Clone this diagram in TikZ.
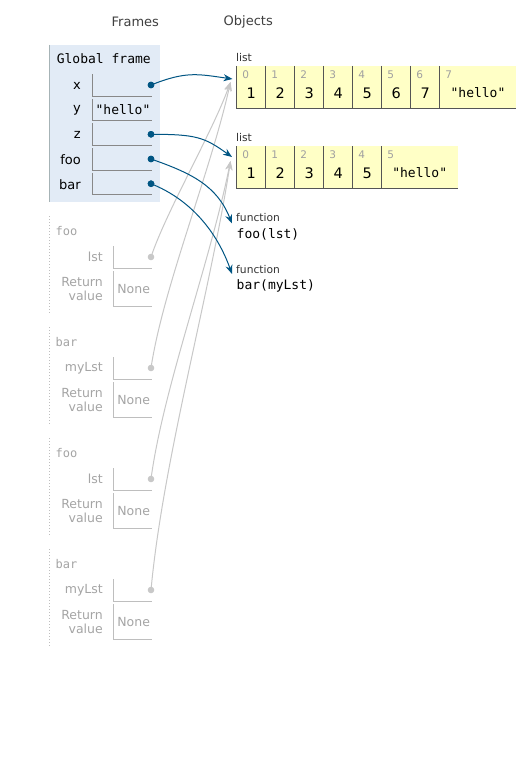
\documentclass[tikz,border=0pt]{standalone}
\usepackage{fontspec}
\setmainfont{DejaVu Sans}
\setmonofont{DejaVu Sans Mono}
\usetikzlibrary{arrows.meta}
\definecolor{ptblue}{RGB}{0,85,131}
\definecolor{framebg}{RGB}{226,235,246}
\definecolor{frameedge}{RGB}{166,179,182}
\definecolor{listbg}{RGB}{255,255,198}
\definecolor{listline}{RGB}{85,85,85}
\definecolor{idxgray}{RGB}{160,160,160}
\definecolor{zgray}{RGB}{165,165,165}
\definecolor{zline}{RGB}{190,190,190}
\definecolor{zarrow}{RGB}{200,200,200}
\definecolor{cellgray}{RGB}{136,136,136}
\tikzset{
  hdr/.style={font=\fontsize{13}{13}\selectfont, text=black!75, inner sep=0},
  varname/.style={font=\fontsize{13}{13}\selectfont, anchor=east, inner sep=0},
  zname/.style={font=\fontsize{12.5}{14.5}\selectfont, anchor=east, inner sep=0, text=zgray, align=right},
  monoval/.style={font=\ttfamily\fontsize{13}{13}\selectfont, inner sep=0},
  numval/.style={font=\fontsize{14.5}{14.5}\selectfont, inner sep=0},
  zhead/.style={font=\ttfamily\fontsize{12}{12}\selectfont, anchor=west, inner sep=0, text=zgray},
  smalllbl/.style={font=\fontsize{10.7}{10.7}\selectfont, anchor=west, inner sep=0, text=black!80},
  idx/.style={font=\fontsize{10.5}{10.5}\selectfont, anchor=west, inner sep=0, text=idxgray},
  listbox/.style={fill=listbg, anchor=north west, inner sep=0, minimum height=42.3pt},
  bluearrow/.style={draw=ptblue, line width=1pt, -{Stealth[length=9pt,width=7pt]}},
  grayarrow/.style={draw=zarrow, line width=1pt, -{Stealth[length=9pt,width=7pt]}},
  bluedot/.style={fill=ptblue},
  graydot/.style={fill=zarrow},
}
\begin{document}
\begin{tikzpicture}[x=1pt,y=-1pt]
\useasboundingbox (0,0) rectangle (532,784);
\fill[white] (0,0) rectangle (532,784);

% headers
\node[hdr] (hframes) at (135.3,22) {Frames};
\node[hdr] (hobjects) at (248.3,22) {Objects};

% global frame
\node[fill=framebg, anchor=north west, inner sep=0, minimum width=111pt, minimum height=156.5pt] (gframe) at (49,45) {};
\draw[frameedge, line width=1pt] (49,45) -- (49,201.5);
\node[monoval] (gtitle) at (103.8,59) {Global frame};

\foreach \nm/\yy in {x/74, y/98.7, z/123.3, foo/148, bar/172.7}{
  \node[varname] (gl\nm) at (81,\yy+11.5) {\nm};
  \draw[cellgray, line width=1pt] (92,\yy) -- (92,\yy+22) -- (152,\yy+22);
}
\node[monoval] (yval) at (123,109.7) {"hello"};

% global dots
\coordinate (dx) at (151,85);
\coordinate (dz) at (151,134.3);
\coordinate (dfoo) at (151,159);
\coordinate (dbar) at (151,183.7);
\foreach \d in {dx,dz,dfoo,dbar}{\fill[bluedot] (\d) circle (3.3pt);}

% list 1
\node[smalllbl] (l1lbl) at (236,57.3) {list};
\node[listbox, minimum width=279.3pt] (list1) at (236.7,66) {};
\foreach \i in {0,...,7}{
  \pgfmathsetmacro{\xl}{236.7+29*\i}
  \draw[listline, line width=1pt] (\xl,66) -- (\xl,108.3);
  \node[idx] (l1i\i) at (\xl+5.5,74.7) {\i};
}
\draw[listline, line width=1pt] (236.2,108.3) -- (516,108.3);
\foreach \i in {1,...,7}{
  \pgfmathsetmacro{\xc}{236.7+29*\i-14.5}
  \node[numval] (l1v\i) at (\xc,93.3) {\i};
}
\node[monoval] (l1v8) at (478,93) {"hello"};

% list 2
\node[smalllbl] (l2lbl) at (236,137.3) {list};
\node[listbox, minimum width=221pt] (list2) at (236.7,146) {};
\foreach \i in {0,...,5}{
  \pgfmathsetmacro{\xl}{236.7+29*\i}
  \draw[listline, line width=1pt] (\xl,146) -- (\xl,188.3);
  \node[idx] (l2i\i) at (\xl+5.5,154.7) {\i};
}
\draw[listline, line width=1pt] (236.2,188.3) -- (457.7,188.3);
\foreach \i in {1,...,5}{
  \pgfmathsetmacro{\xc}{236.7+29*\i-14.5}
  \node[numval] (l2v\i) at (\xc,173.3) {\i};
}
\node[monoval] (l2v6) at (419.7,173) {"hello"};

% functions
\node[smalllbl] (f1lbl) at (236,217.5) {function};
\node[monoval, anchor=west] (foofn) at (236.5,234.3) {foo(lst)};
\node[smalllbl] (f2lbl) at (236,269.8) {function};
\node[monoval, anchor=west] (barfn) at (236.5,286) {bar(myLst)};

% target coordinates
\coordinate (t1) at (232.5,79);
\coordinate (t2) at (232,157);
\coordinate (t3) at (232,223.5);
\coordinate (t4) at (232,274);
\coordinate (g1) at (230.5,82);
\coordinate (g2) at (230.5,161);

% stack frames
\foreach \k/\fn/\vn/\tgt in {0/foo/lst/g1, 1/bar/myLst/g1, 2/foo/lst/g2, 3/bar/myLst/g2}{
  \pgfmathsetmacro{\T}{216+111*\k}
  \draw[zline, line width=1pt, dotted] (49.3,\T) -- (49.3,\T+97);
  \node[zhead] (sf\k) at (55.5,\T+15) {\fn};
  \node[zname] (sv\k) at (103,\T+41) {\vn};
  \draw[zline, line width=1pt] (113.3,\T+30) -- (113.3,\T+52.3) -- (151.7,\T+52.3);
  \node[zname] (sr\k) at (103,\T+73) {Return\\value};
  \draw[zline, line width=1pt] (113.3,\T+55) -- (113.3,\T+90.7) -- (151.7,\T+90.7);
  \node[zname, anchor=center] (sn\k) at (133.7,\T+73) {None};
  \coordinate (sd\k) at (151,\T+41);
}

% gray arrows
\draw[grayarrow] (sd0) .. controls +(15,-45) and +(-18,50) .. (g1);
\draw[grayarrow] (sd1) .. controls +(12,-80) and +(-20,90) .. (g1);
\draw[grayarrow] (sd2) .. controls +(12,-90) and +(-20,100) .. (g2);
\draw[grayarrow] (sd3) .. controls +(12,-130) and +(-20,130) .. (g2);
\foreach \k in {0,...,3}{\fill[graydot] (sd\k) circle (3.3pt);}

% blue arrows
\draw[bluearrow] (dx) .. controls +(35,-14) and +(-35,-5) .. (t1);
\draw[bluearrow] (dz) .. controls +(45,0) and +(-28,-20) .. (t2);
\draw[bluearrow] (dfoo) .. controls +(40,14) and +(-15,-38) .. (t3);
\draw[bluearrow] (dbar) .. controls +(40,16) and +(-15,-42) .. (t4);
\foreach \d in {dx,dz,dfoo,dbar}{\fill[bluedot] (\d) circle (3.3pt);}
\end{tikzpicture}
\end{document}
